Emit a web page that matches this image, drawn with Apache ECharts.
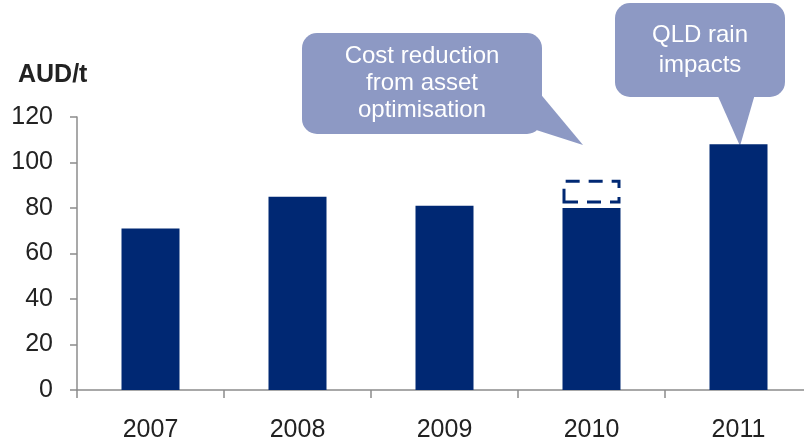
<!DOCTYPE html>
<html>
<head>
<meta charset="utf-8">
<script src="https://cdn.jsdelivr.net/npm/echarts@6/dist/echarts.min.js"></script>
<style>
html,body{margin:0;padding:0;background:#fff;overflow:hidden;width:804px;height:443px;}
#c{width:812px;height:443px;}
</style>
</head>
<body>
<div id="c"></div>
<script>
// Data
var categories = ['2007', '2008', '2009', '2010', '2011'];
var costValues = [71, 85, 81, 80, 108];
// dashed "cost reduction" box on 2010: gap below the box, then box height
var boxGap = [null, null, null, 2, null];
var boxHeight = [null, null, null, 10.4, null];
var yTicks = { min: 0, max: 120, interval: 20 };
var unitLabel = 'AUD/t';
var callout1Text = 'Cost reduction\nfrom asset\noptimisation';
var callout2Text = 'QLD rain\nimpacts';

var NAVY = '#002873';
var BUBBLE = '#8D99C4';
var FONT = 'Liberation Sans, Arial, sans-serif';

var chart = echarts.init(document.getElementById('c'), null, { renderer: 'canvas' });
chart.setOption({
  animation: false,
  backgroundColor: '#ffffff',
  title: {
    text: unitLabel,
    left: 18,
    top: 63,
    padding: 0,
    textStyle: { fontFamily: FONT, fontSize: 25, fontWeight: 'bold', color: '#222' }
  },
  grid: { left: 77, right: 0, top: 117, bottom: 50.5, containLabel: false },
  xAxis: {
    type: 'category',
    data: categories,
    axisLine: { show: true, lineStyle: { color: '#8c8c8c', width: 1.5 } },
    axisTick: { show: true, length: 8, lineStyle: { color: '#8c8c8c', width: 1.5 } },
    axisLabel: { fontFamily: FONT, fontSize: 25, color: '#222', margin: 28 }
  },
  yAxis: {
    type: 'value',
    min: yTicks.min,
    max: yTicks.max,
    interval: yTicks.interval,
    splitLine: { show: false },
    axisLine: { show: true, lineStyle: { color: '#8c8c8c', width: 1.5 } },
    axisTick: { show: true, length: 7, lineStyle: { color: '#8c8c8c', width: 1.5 } },
    axisLabel: { fontFamily: FONT, fontSize: 25, color: '#222', margin: 24 }
  },
  series: [
    {
      type: 'bar', stack: 'a', data: costValues, barWidth: 58,
      itemStyle: { color: NAVY }
    },
    {
      type: 'bar', stack: 'a', data: boxGap, barWidth: 58,
      itemStyle: { color: 'rgba(0,0,0,0)' }, silent: true
    },
    {
      type: 'bar', stack: 'a', data: boxHeight, barWidth: 58,
      itemStyle: { color: 'rgba(255,255,255,0)', borderColor: NAVY, borderWidth: 3, borderType: [14, 9] }
    }
  ],
  graphic: [
    { type: 'polygon', shape: { points: [[538, 91], [583, 145], [530, 128]] }, style: { fill: BUBBLE } },
    { type: 'rect', shape: { x: 302, y: 33, width: 240, height: 101, r: 15 }, style: { fill: BUBBLE } },
    { type: 'text', style: { text: callout1Text, x: 422, y: 83.5, align: 'center', verticalAlign: 'middle',
        font: '24px ' + FONT, fill: '#ffffff', lineHeight: 27 } },
    { type: 'polygon', shape: { points: [[717, 94], [740, 146], [755, 94]] }, style: { fill: BUBBLE } },
    { type: 'rect', shape: { x: 615, y: 3, width: 170, height: 94, r: 15 }, style: { fill: BUBBLE } },
    { type: 'text', style: { text: callout2Text, x: 700, y: 50.5, align: 'center', verticalAlign: 'middle',
        font: '24px ' + FONT, fill: '#ffffff', lineHeight: 30 } }
  ]
});
</script>
</body>
</html>
